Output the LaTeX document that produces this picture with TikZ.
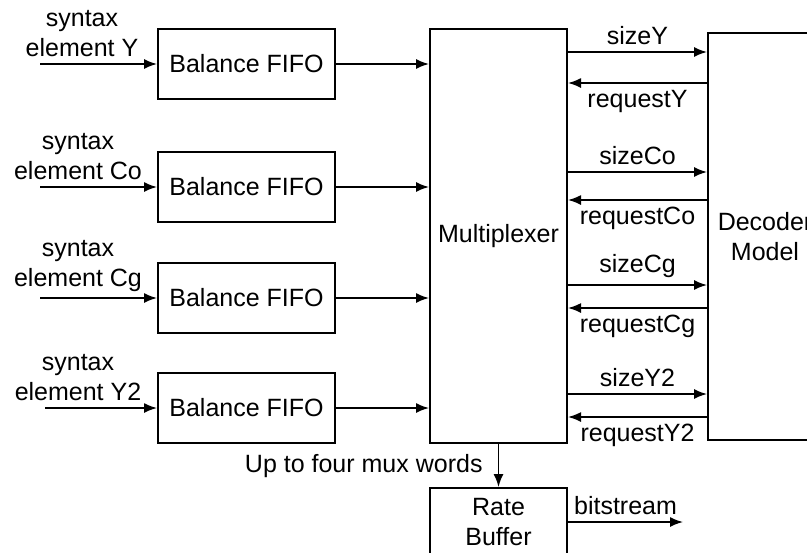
\documentclass[tikz,border=0pt]{standalone}
\usepackage{fontspec}
\setmainfont{Liberation Sans}
\usetikzlibrary{arrows.meta}
\tikzset{
  blk/.style={draw, line width=1pt, minimum width=88.5pt, minimum height=35pt, inner sep=0pt},
  lbl/.style={align=center, inner sep=3pt},
}
\begin{document}
\begin{tikzpicture}[x=0.5pt,y=-0.5pt,>={Latex[length=6.5pt,width=5pt]},line width=0.8pt,font=\fontsize{12.5}{15}\selectfont]
        \clip (0,0) rectangle (807,552);
        % balance fifos
        \node[blk] (fY) at (246.5,64) {Balance FIFO};
        \node[blk] (fCo) at (246.5,187) {Balance FIFO};
        \node[blk] (fCg) at (246.5,298) {Balance FIFO};
        \node[blk] (fY2) at (246.5,408) {Balance FIFO};
        \node[blk, minimum width=68.5pt, minimum height=207pt] (mux) at (498.5,236) {Multiplexer};
        \node[blk, minimum width=57pt, minimum height=203.5pt, align=center] (dec) at (765,236.5) {Decoder\\Model};
        \node[blk, minimum width=68.5pt, minimum height=34pt, align=center] (rb) at (498.5,522) {Rate\\Buffer};
        % inputs
        \coordinate (iY) at (40,64);
        \coordinate (iCo) at (40,187);
        \coordinate (iCg) at (40,298);
        \coordinate (iY2) at (45,408);
        \node[lbl, above] (tY) at (82,64) {syntax\\element Y};
        \node[lbl, above] (tCo) at (78,187) {syntax\\element Co};
        \node[lbl, above] (tCg) at (78,298) {syntax\\element Cg};
        \node[lbl, above] (tY2) at (78,408) {syntax\\element Y2};
        \draw[->] (iY)--(fY);
        \draw[->] (iCo)--(fCo);
        \draw[->] (iCg)--(fCg);
        \draw[->] (iY2)--(fY2);
        \draw[->] (fY)--(mux.west |- fY);
        \draw[->] (fCo)--(mux.west |- fCo);
        \draw[->] (fCg)--(mux.west |- fCg);
        \draw[->] (fY2)--(mux.west |- fY2);
        % size / request
        \draw[->] (mux.east |- 0,52)--node[above] (sY) {sizeY} (dec.west |- 0,52);
        \draw[<-] (mux.east |- 0,83)--node[below] (rY) {requestY} (dec.west |- 0,83);
        \draw[->] (mux.east |- 0,172)--node[above] (sCo) {sizeCo} (dec.west |- 0,172);
        \draw[<-] (mux.east |- 0,200)--node[below] (rCo) {requestCo} (dec.west |- 0,200);
        \draw[->] (mux.east |- 0,285)--node[above] (sCg) {sizeCg} (dec.west |- 0,285);
        \draw[<-] (mux.east |- 0,308)--node[below] (rCg) {requestCg} (dec.west |- 0,308);
        \draw[->] (mux.east |- 0,394)--node[above] (sY2) {sizeY2} (dec.west |- 0,394);
        \draw[<-] (mux.east |- 0,417)--node[below] (rY2) {requestY2} (dec.west |- 0,417);
        % output
        \draw[->] (mux)--(rb);
        \node[anchor=east] (mw) at (490,466) {Up to four mux words};
        \coordinate (bs) at (683,522);
        \draw[->] (rb.east)--node[above] (tbs) {bitstream} (bs);
    \end{tikzpicture}
\end{document}
